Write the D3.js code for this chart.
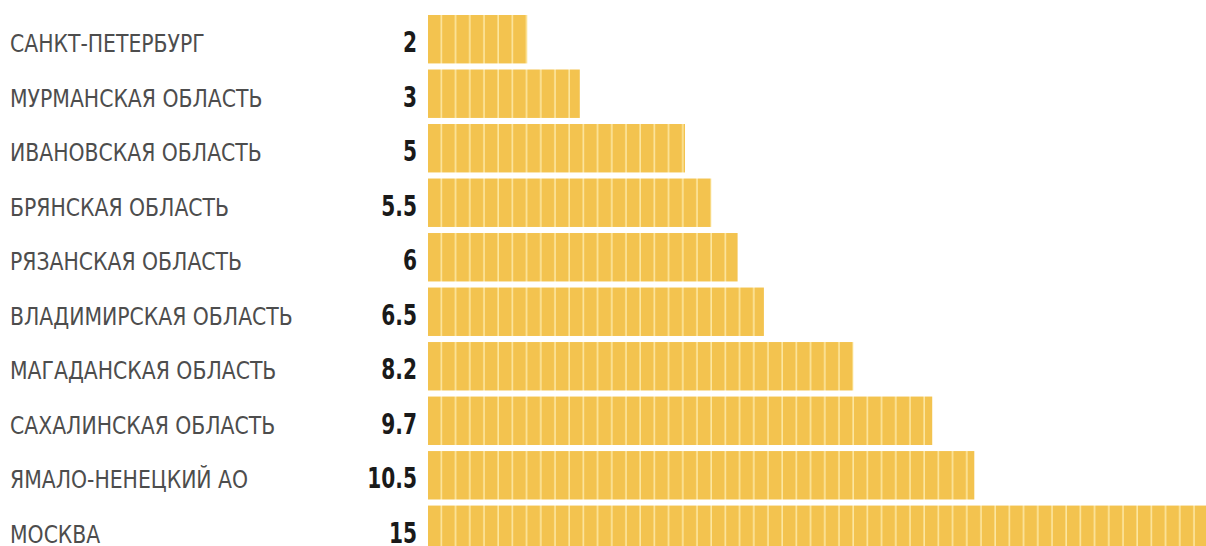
<!DOCTYPE html>
<html>
<head>
<meta charset="utf-8">
<script src="https://cdn.jsdelivr.net/npm/d3@7"></script>
<style>
    body { margin: 0; background: #fff; }
    svg { display: block; }
</style>
</head>
<body>
<div class="container"></div>
<script>
// regions and values
var regions = ['САНКТ-ПЕТЕРБУРГ', 'МУРМАНСКАЯ ОБЛАСТЬ', 'ИВАНОВСКАЯ ОБЛАСТЬ', 'БРЯНСКАЯ ОБЛАСТЬ',
    'РЯЗАНСКАЯ ОБЛАСТЬ', 'ВЛАДИМИРСКАЯ ОБЛАСТЬ', 'МАГАДАНСКАЯ ОБЛАСТЬ', 'САХАЛИНСКАЯ ОБЛАСТЬ',
    'ЯМАЛО-НЕНЕЦКИЙ АО', 'МОСКВА'];
var values = [2, 3, 5, 5.5, 6, 6.5, 8.2, 9.7, 10.5, 15];
var valueLabels = ['2', '3', '5', '5.5', '6', '6.5', '8.2', '9.7', '10.5', '15'];

!function () {
    var width = 1206, height = 546;
    var barStart = 428;
    var stripe = 14.2;
    var font = '"DejaVu Sans Condensed", "DejaVu Sans", sans-serif';

    var svg = d3.select('.container')
        .append('svg')
        .attr('width', width)
        .attr('height', height);

    var x = d3.scaleLinear()
        .domain([0, 15])
        .range([422, 1211]);

    var y = d3.scaleBand()
        .domain(regions)
        .range([15, 15 + 53.9 * 10])
        .paddingInner(6 / 53.9)
        .paddingOuter(0)
        .align(0);

    // stripe pattern for the bars
    var pat = svg.append('defs').append('pattern')
        .attr('id', 'stripes')
        .attr('patternUnits', 'userSpaceOnUse')
        .attr('x', barStart)
        .attr('width', stripe)
        .attr('height', 10);
    pat.append('rect')
        .attr('width', stripe)
        .attr('height', 10)
        .attr('fill', '#f3c34f');
    pat.append('rect')
        .attr('x', stripe - 1.6)
        .attr('width', 1.6)
        .attr('height', 10)
        .attr('fill', '#fde6a0');

    var rows = svg.selectAll('g.row')
        .data(regions)
        .enter()
        .append('g')
        .attr('class', 'row');

    rows.append('rect')
        .attr('x', barStart)
        .attr('y', function (d) { return y(d); })
        .attr('width', function (d, i) { return x(values[i]) - barStart; })
        .attr('height', y.bandwidth())
        .attr('fill', 'url(#stripes)');

    var labels = rows.append('g')
        .append('text')
        .attr('font-family', font)
        .attr('font-size', 24)
        .attr('fill', '#4d4d4d')
        .text(function (d) { return d; });

    // squeeze labels so the longest one spans like the original
    var longest = d3.max(labels.nodes(), function (n) { return n.getComputedTextLength(); });
    var sx = 283 / longest;
    labels.each(function (d) {
        d3.select(this.parentNode)
            .attr('transform', 'translate(10,' + (y(d) + 37) + ') scale(' + sx + ',1)');
    });

    rows.append('g')
        .attr('transform', function (d) { return 'translate(417,' + (y(d) + 37) + ') scale(0.8,1)'; })
        .append('text')
        .attr('text-anchor', 'end')
        .attr('font-family', font)
        .attr('font-weight', 'bold')
        .attr('font-size', 28)
        .attr('fill', '#1a1a1a')
        .text(function (d, i) { return valueLabels[i]; });
}();
</script>
</body>
</html>
